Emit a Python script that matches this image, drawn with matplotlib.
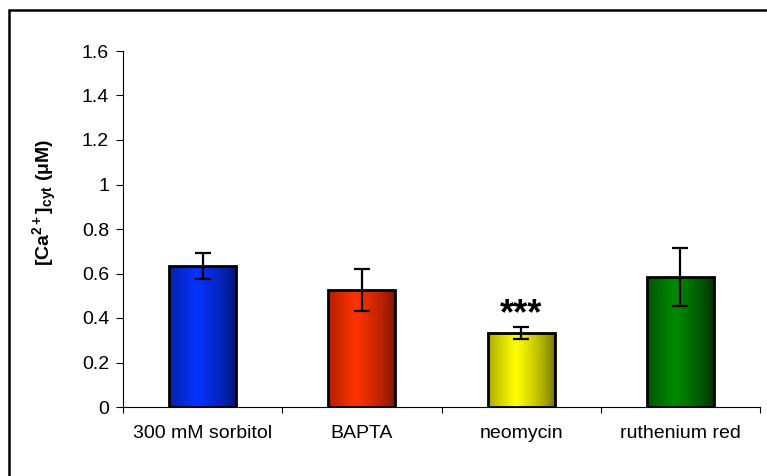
import numpy as np
import matplotlib.pyplot as plt
from matplotlib.colors import LinearSegmentedColormap
from matplotlib.patches import Rectangle

plt.rcParams['font.family'] = ['Liberation Sans', 'DejaVu Sans']
plt.rcParams['mathtext.default'] = 'regular'

# data
treatments = ['300 mM sorbitol', 'BAPTA', 'neomycin', 'ruthenium red']
ca_mean = [0.635, 0.525, 0.333, 0.585]
ca_err = [0.058, 0.095, 0.027, 0.13]
stars = ['', '', '***', '']

# (dark edge, bright centre) for each bar
bar_colors = [('#001470', '#0833ff'),
              ('#7a1200', '#ff3300'),
              ('#6e6e00', '#ffff00'),
              ('#002b00', '#008a00')]

fig = plt.figure(figsize=(7.67, 4.76), dpi=100)
ax = fig.add_axes([123 / 767, 1 - 407 / 476, (760 - 123) / 767, (407 - 51) / 476])

x = np.arange(len(treatments))
width = 0.42
grad = np.linspace(0, 1, 256)
shade = np.clip(1 - np.abs(grad - 0.42) / 0.58, 0, 1) ** 0.7
shade = shade.reshape(1, -1)

for i in range(len(treatments)):
    cmap = LinearSegmentedColormap.from_list('b%d' % i, list(bar_colors[i]))
    left = x[i] - width / 2
    im = ax.imshow(shade, cmap=cmap, aspect='auto', vmin=0, vmax=1,
                   extent=[left, left + width, 0, ca_mean[i]], zorder=2)
    rect = Rectangle((left, 0), width, ca_mean[i], facecolor='none',
                     edgecolor='black', linewidth=2, zorder=3)
    ax.add_patch(rect)
    im.set_clip_path(rect)

ax.errorbar(x, ca_mean, yerr=ca_err, fmt='none', ecolor='black',
            elinewidth=1.6, capsize=5.5, capthick=1.6, zorder=4)

for i, s in enumerate(stars):
    if s:
        ax.text(x[i], ca_mean[i] + ca_err[i] + 0.012, s, ha='center', va='baseline',
                fontsize=26, fontweight='bold')

ax.set_xlim(-0.5, len(treatments) - 0.5)
ax.set_ylim(0, 1.6)
ax.set_yticks(np.arange(0, 1.61, 0.2))
ax.set_yticklabels(['0', '0.2', '0.4', '0.6', '0.8', '1', '1.2', '1.4', '1.6'])
ax.tick_params(axis='y', labelsize=14, length=5, width=0.8, pad=5)

# ticks between categories, names in the middle
ax.set_xticks(np.arange(len(treatments) + 1) - 0.5)
ax.set_xticklabels([])
ax.tick_params(axis='x', which='major', length=4, width=0.8)
ax.set_xticks(x, minor=True)
ax.set_xticklabels(treatments, minor=True)
ax.tick_params(axis='x', which='minor', length=0, labelsize=14, pad=13)

ax.spines['top'].set_visible(False)
ax.spines['right'].set_visible(False)
ax.spines['left'].set_linewidth(0.8)
ax.spines['bottom'].set_linewidth(0.8)

ax.set_ylabel(r'[Ca$^{2+}$]$_{cyt}$ (μM)', fontsize=14, fontweight='bold')
ax.yaxis.set_label_coords(-0.101, 0.576)

# outer chart border
fig.add_artist(Rectangle((9 / 767, -0.1), 1.2, 1 - 10 / 476 + 0.1,
                         transform=fig.transFigure, facecolor='none',
                         edgecolor='black', linewidth=1.8))

fig.savefig('out.png', dpi=100)
